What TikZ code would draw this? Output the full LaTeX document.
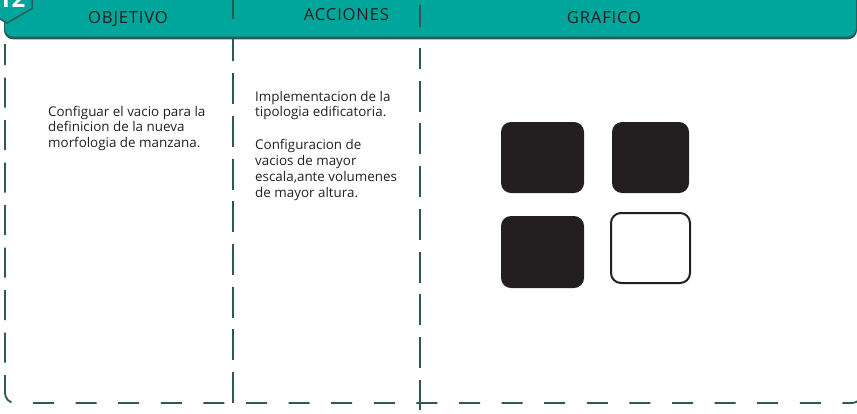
\documentclass[tikz,border=0pt]{standalone}
\usepackage{fontspec}
\setmainfont{Open Sans}

\begin{document}
\begin{tikzpicture}[x=1pt, y=-1pt,
    vDash/.style={draw=lineColour, line width=1.8pt, dash pattern=on 31pt off 11.7pt},
    hDash/.style={draw=lineColour, line width=1.8pt, dash pattern=on 21pt off 21.6pt},
    headText/.style={text=textColour, font=\fontsize{16.6}{19}\selectfont\addfontfeature{LetterSpace=5}, anchor=base, inner sep=0pt},
    bodyText/.style={text=textColour, font=\fontsize{13.4}{15.7}\selectfont, align=left, anchor=base west, inner sep=0pt},
    fullBox/.style={fill=textColour, rounded corners=10pt, inner sep=0pt},
    emptyBox/.style={draw=textColour, line width=2pt, fill=white, rounded corners=10pt, inner sep=0pt}]

    \definecolor{headColour}{HTML}{00A69C}
    \definecolor{shadeColour}{HTML}{2E5A56}
    \definecolor{lineColour}{HTML}{2F5753}
    \definecolor{textColour}{HTML}{231F20}

    % Fix the picture size
    \useasboundingbox (0,0) rectangle (857,413);
    \clip (0,0) rectangle (857,413);

    % Draw the dashed frame and column lines
    \draw[lineColour, line width=1.8pt, dash pattern=on 30pt off 12.5pt, dash phase=9pt, rounded corners=10pt] (5,44) -- (5,403) -- (15,403);
    \draw[hDash, rounded corners=10pt] (33,403) -- (862,403) -- (862,330);
    \draw[vDash] (233,30.4) -- (233,403);
    \draw[vDash, dash phase=10pt] (420,48) -- (420,410);

    % Draw the header band
    \fill[shadeColour, rounded corners=9pt] (4,-20) rectangle (857,39.3);
    \fill[headColour, rounded corners=8pt] (5,-20) rectangle (856,36.5);
    \draw[lineColour, line width=1.8pt] (233,0) -- (233,18.5);
    \draw[lineColour, line width=1.8pt] (420,5) -- (420,27);

    % Draw the number badge
    \filldraw[fill=headColour, draw=shadeColour, line width=1.5pt]
        (7,-35) -- (-18.1,-20.5) -- (-18.1,8.5) -- (7,23) -- (32.1,8.5) -- (32.1,-20.5) -- cycle;
    \node[text=white, font=\fontsize{24}{24}\selectfont\bfseries, anchor=base, inner sep=0pt] (badgeNum) at (11.5,7) {12};

    % Column titles
    \node[headText] (titleObj) at (128,23.3) {OBJETIVO};
    \node[headText] (titleAcc) at (346.5,20.7) {ACCIONES};
    \node[headText] (titleGra) at (604,23.7) {GRAFICO};

    % Column texts (placed at the baseline of their last line)
    \node[bodyText] (textObj) at (48,147.5) {Configuar el vacio para la\\definicion de la nueva\\morfologia de manzana.};
    \node[bodyText] (textAcc) at (255,197) {Implementacion de la\\tipologia edificatoria.\\[17.3pt]Configuracion de\\vacios de mayor\\escala,ante volumenes\\de mayor altura.};

    % Draw the four blocks
    \node[fullBox, minimum width=83pt, minimum height=71pt] (blockA) at (542.5,157.5) {};
    \node[fullBox, minimum width=77pt, minimum height=71pt] (blockB) at (650.5,157.5) {};
    \node[fullBox, minimum width=83pt, minimum height=72pt] (blockC) at (542.5,252) {};
    \node[emptyBox, minimum width=79pt, minimum height=70pt] (blockD) at (650.5,248) {};

\end{tikzpicture}
\end{document}
